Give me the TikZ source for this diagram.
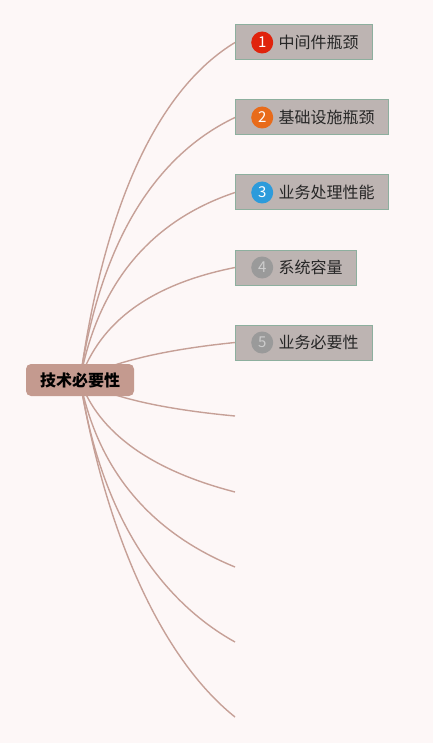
\documentclass[tikz,border=0pt]{standalone}
\usepackage{fontspec}
\usepackage{tikz}
\usetikzlibrary{positioning,backgrounds}
\newfontfamily\cjk{Noto Sans CJK SC}
\definecolor{paper}{HTML}{FDF7F7}
\definecolor{rootfill}{HTML}{C49A8F}
\definecolor{branch}{HTML}{C6A097}
\definecolor{boxfill}{HTML}{BDB4B2}
\definecolor{boxline}{HTML}{8DAF9E}
\definecolor{numred}{HTML}{E0230C}
\definecolor{numorange}{HTML}{E86B1A}
\definecolor{numblue}{HTML}{2D9BDB}
\definecolor{numgrey}{HTML}{9A9A9A}
\definecolor{greydigit}{HTML}{CDCDCD}

\begin{document}
\begin{tikzpicture}[x=1pt, y=-1pt,
  root/.style={fill=rootfill, rounded corners=5pt, minimum width=108pt,
               minimum height=32pt, inner sep=0,
               font=\cjk\bfseries\fontsize{16}{18}\selectfont},
  box/.style={fill=boxfill, draw=boxline, line width=1pt, minimum height=35pt,
              inner sep=0, anchor=west},
  num/.style={circle, minimum size=22pt, inner sep=0,
              font=\cjk\fontsize{15}{18}\selectfont},
  lab/.style={inner sep=0, text=black!85, font=\cjk\fontsize{16}{18}\selectfont},
  br/.style={draw=branch, line width=1.4pt}]
\useasboundingbox (0,0) rectangle (433,743);
\node[root] (root) at (80,380) {技术必要性};
% numbered topics
\foreach \i/\y/\w/\c/\d/\t in {1/42.5/137/numred/white/中间件瓶颈,
    2/117.5/153/numorange/white/基础设施瓶颈,
    3/192.5/153/numblue/white/业务处理性能,
    4/267.5/121/numgrey/greydigit/系统容量,
    5/342.5/137/numgrey/greydigit/业务必要性}{
  \node[box, minimum width=\w pt] (b\i) at (235,\y) {};
  \node[num, fill=\c, text=\d, right=16pt of b\i.west] (n\i) {\i};
  \node[lab, right=5pt of n\i] (t\i) {\t};
}
% empty branch ends
\foreach \i/\y in {1/416, 2/492, 3/567, 4/642, 5/717}
  \coordinate (e\i) at (235,\y);
\begin{scope}[on background layer]
  \fill[paper] (0,0) rectangle (433,743);
  \foreach \i/\ax/\ay/\bx/\by in {1/105/200/160/88, 2/100/244/154/156,
      3/98/284/150/221, 4/100/321/152/284, 5/109/363/161/350}
    \draw[br] (root.center) .. controls (\ax,\ay) and (\bx,\by) .. (b\i.west);
  \foreach \i/\ax/\ay/\bx/\by in {1/109/397/161/409, 2/98/432/150/470,
      3/98/472/152/533, 4/100/510/156/598, 5/105/530/160/657}
    \draw[br] (root.center) .. controls (\ax,\ay) and (\bx,\by) .. (e\i);
\end{scope}
\end{tikzpicture}
\end{document}
